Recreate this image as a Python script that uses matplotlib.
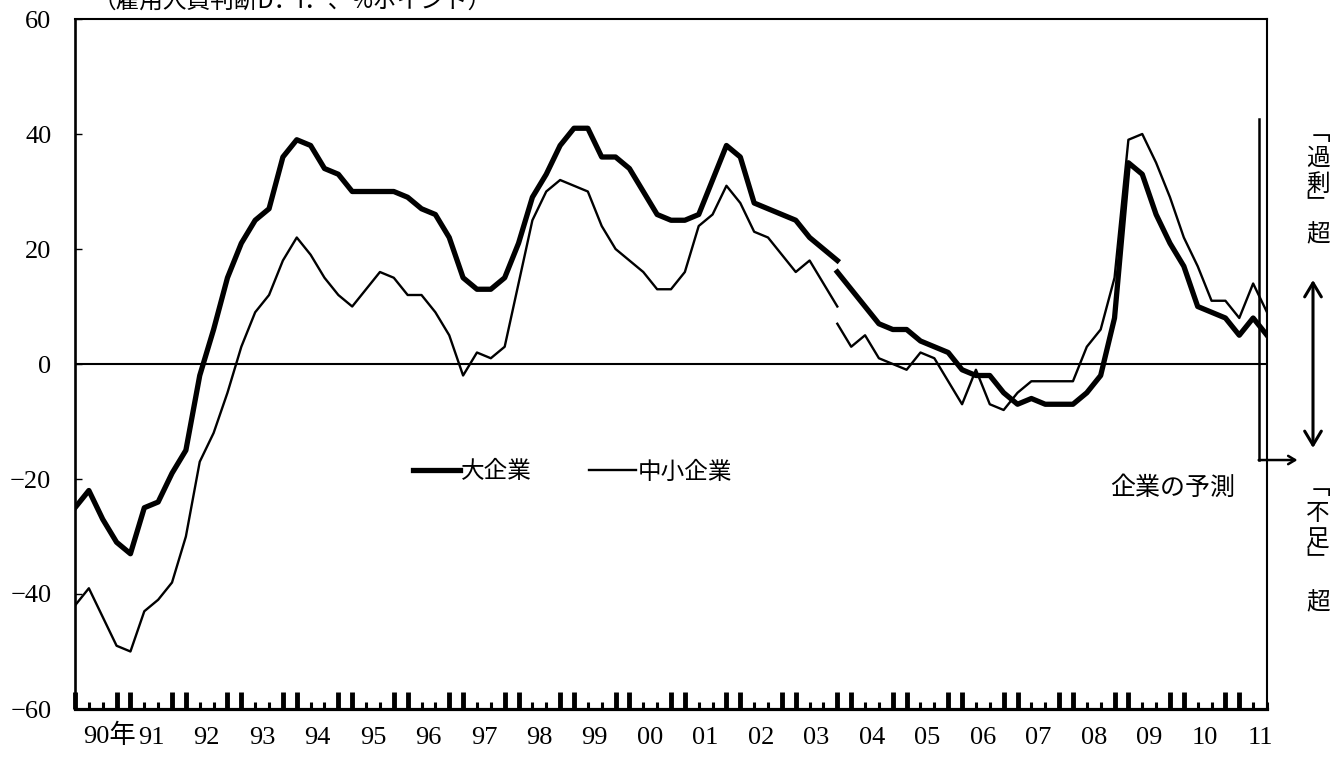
import matplotlib
matplotlib.use("Agg")
import matplotlib.pyplot as plt
import numpy as np
from matplotlib.transforms import blended_transform_factory, offset_copy

# quarterly, 1990Q1 = 0 ... 2011Q3 (forecast) = 86
large_old = [-25, -22, -27, -31, -33, -25, -24, -19, -15, -2, 6, 15, 21, 25, 27, 36,
             39, 38, 34, 33, 30, 30, 30, 30, 29, 27, 26, 22, 15, 13, 13, 15,
             21, 29, 33, 38, 41, 41, 36, 36, 34, 30, 26, 25, 25, 26, 32, 38,
             36, 28, 27, 26, 25, 22, 20, 18]
large_new = [16, 13, 10, 7, 6, 6, 4, 3, 2, -1, -2, -2, -5, -7, -6, -7,
             -7, -7, -5, -2, 8, 35, 33, 26, 21, 17, 10, 9, 8, 5, 8, 5]
small_old = [-42, -39, -44, -49, -50, -43, -41, -38, -30, -17, -12, -5, 3, 9, 12, 18,
             22, 19, 15, 12, 10, 13, 16, 15, 12, 12, 9, 5, -2, 2, 1, 3,
             14, 25, 30, 32, 31, 30, 24, 20, 18, 16, 13, 13, 16, 24, 26, 31,
             28, 23, 22, 19, 16, 18, 14, 10]
small_new = [7, 3, 5, 1, 0, -1, 2, 1, -3, -7, -1, -7, -8, -5, -3, -3,
             -3, -3, 3, 6, 15, 39, 40, 35, 29, 22, 17, 11, 11, 8, 14, 9]

years = ["90年", "91", "92", "93", "94", "95", "96", "97", "98", "99", "00",
         "01", "02", "03", "04", "05", "06", "07", "08", "09", "10", "11"]
y_ticks = [-60, -40, -20, 0, 20, 40, 60]

x_old = np.arange(len(large_old))
x_new = np.arange(len(large_old) - 1, len(large_old) - 1 + len(large_new))
n_last = x_new[-1]

plt.rcParams["font.family"] = ["Liberation Serif", "Noto Sans CJK JP"]
JP = "Noto Sans CJK JP"
NUM_SIZE = 19
JP_SIZE = 17

W, H = 1330, 758
fig = plt.figure(figsize=(W / 100, H / 100), dpi=100)
ax = fig.add_axes([75 / W, 49 / H, 1192 / W, 690 / H])
ax.set_xlim(0, n_last)
ax.set_ylim(-60, 60)

THICK, THIN = 3.8, 1.7
ax.plot(x_old, large_old, color="black", lw=THICK, solid_joinstyle="round", label="大企業")
ax.plot(x_new, large_new, color="black", lw=THICK, solid_joinstyle="round")
ax.plot(x_old, small_old, color="black", lw=THIN, solid_joinstyle="round", label="中小企業")
ax.plot(x_new, small_new, color="black", lw=THIN, solid_joinstyle="round")
ax.axhline(0, color="black", lw=1.5)

for s in ["top", "right"]:
    ax.spines[s].set_linewidth(1.5)
ax.spines["left"].set_linewidth(1.9)
ax.spines["bottom"].set_linewidth(2.3)

# y axis
ax.set_yticks(y_ticks)
ax.set_yticklabels([str(v).replace("-", "\u2212") for v in y_ticks])
ax.tick_params(axis="y", direction="in", length=5, width=1, pad=17, labelsize=NUM_SIZE)

# quarter ticks: tall at Q4/Q1, short at Q2/Q3
q = np.arange(n_last + 1)
ax.set_xticks(q[(q % 4 == 0) | (q % 4 == 3)])
ax.set_xticklabels([])
ax.set_xticks(q[(q % 4 == 1) | (q % 4 == 2)], minor=True)
ax.tick_params(axis="x", which="major", direction="in", length=12, width=3.5)
ax.tick_params(axis="x", which="minor", direction="in", length=5, width=2.2)

# year labels under each year
year_pos = np.arange(len(years)) * 4 + 1.5
sec = ax.secondary_xaxis("bottom")
sec.set_xticks(year_pos[1:])
sec.set_xticklabels(years[1:])
sec.tick_params(length=0, pad=13, labelsize=NUM_SIZE)
sec.spines["bottom"].set_visible(False)
tr = blended_transform_factory(ax.transData, ax.transAxes)
ax.text(year_pos[0], -0.039, years[0], transform=offset_copy(tr, fig, x=-13, units="dots"),
        ha="left", va="center", fontsize=NUM_SIZE)

# legend
ax.legend(loc="center left", bbox_to_anchor=((413 - 75) / 1192, (739 - 502) / 690),
          ncol=2, frameon=False, handlelength=2.0, handletextpad=0.05,
          columnspacing=2.4, borderpad=0, borderaxespad=0,
          prop={"family": JP, "size": JP_SIZE})

# forecast marker
fx = n_last - 0.6
ax.plot([fx, fx], [42.6, -16.7], color="black", lw=1.8, clip_on=False)
ax.annotate("", xy=(n_last + 2.2, -16.7), xytext=(fx, -16.7),
            arrowprops=dict(arrowstyle="->,head_length=0.5,head_width=0.3", lw=1.8,
                            color="black", shrinkA=0, shrinkB=0),
            annotation_clip=False)
fig.text(1173 / W, 1 - 488 / H, "企業の予測", ha="center", va="center",
         fontsize=JP_SIZE + 1, family=JP)

# title (cut off at top)
fig.text(93 / W, 1 - 13 / H, "（雇用人員判断D．I．、%ポイント）", ha="left", va="bottom",
         fontsize=JP_SIZE, family=JP)

# right side vertical notes
for ch, yp in [("\ufe41", 133), ("過", 158), ("剰", 184), ("\ufe42", 205), ("超", 235),
               ("\ufe41", 488), ("不", 513), ("足", 540), ("\ufe42", 562), ("超", 603)]:
    fig.text(1318 / W, 1 - yp / H, ch, ha="center", va="center", fontsize=JP_SIZE, family=JP)
fig.add_artist(matplotlib.patches.FancyArrowPatch(
    (1313 / W, 1 - 448 / H), (1313 / W, 1 - 280 / H), transform=fig.transFigure,
    arrowstyle="<->,head_length=5,head_width=3", lw=2.2, color="black",
    shrinkA=0, shrinkB=0, mutation_scale=2))

fig.savefig("out.png", dpi=100)
